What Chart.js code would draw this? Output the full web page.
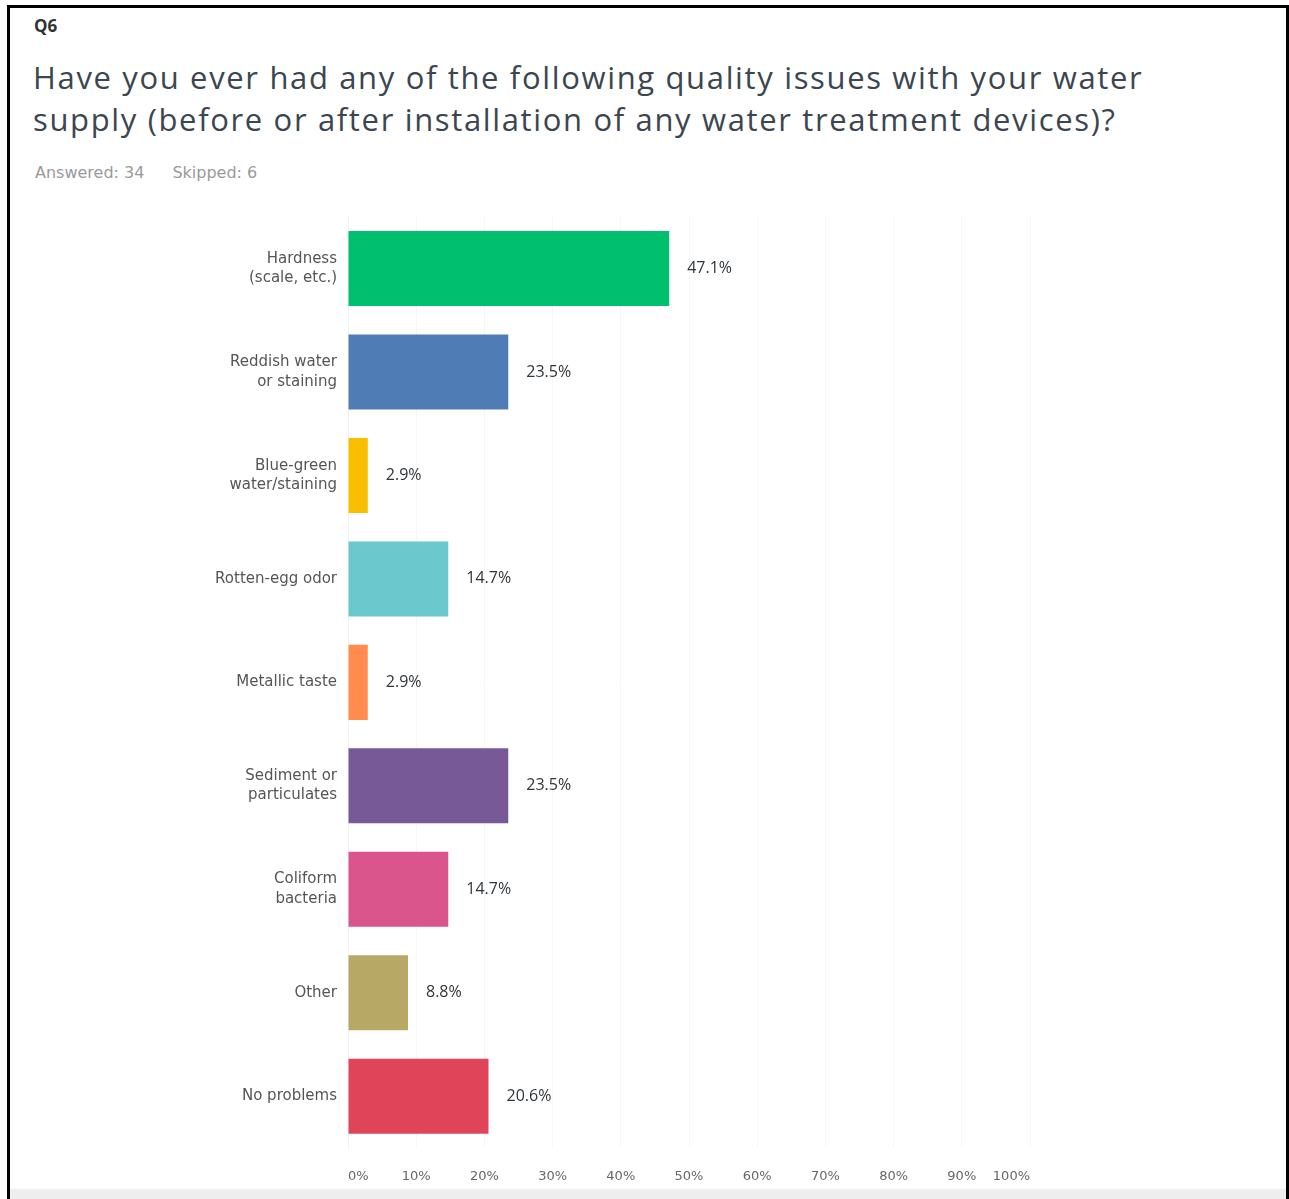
<!DOCTYPE html>
<html>
<head>
<meta charset="utf-8">
<script src="https://cdn.jsdelivr.net/npm/chart.js@4.4.1/dist/chart.umd.min.js"></script>
<style>
  html, body { margin: 0; padding: 0; background: #fff; }
  body { width: 1289px; height: 1199px; position: relative; overflow: hidden; font-family: "Open Sans", "Noto Sans", sans-serif; }
  #frame { position: absolute; left: 7px; top: 5px; width: 1276px; height: 1200px; border: 3px solid #000; box-sizing: content-box; }
  #strip { position: absolute; left: 10px; top: 1189px; width: 1276px; height: 10px; background: #eeeeee; }
  #q { position: absolute; left: 34px; top: 14px; font-size: 17px; font-weight: 700; color: #333; }
  #title { position: absolute; left: 33px; top: 56px; font-size: 31px; line-height: 42px; color: #3b4650; font-weight: 400; letter-spacing: 1.65px; white-space: nowrap; }
  #meta { position: absolute; left: 35px; top: 163px; font-size: 16px; color: #9a9a9a; font-family: "DejaVu Sans", sans-serif; }
  #meta span { margin-right: 28px; }
  #wrap { position: absolute; left: 10px; top: 196px; width: 1270px; height: 994px; }
</style>
</head>
<body>
<div id="frame"></div>
<div id="strip"></div>
<div id="q">Q6</div>
<div id="title">Have you ever had any of the following quality issues with your water<br>supply (before or after installation of any water treatment devices)?</div>
<div id="meta"><span>Answered: 34</span><span>Skipped: 6</span></div>
<div id="wrap"><canvas id="c"></canvas></div>
<script>
const categories = [
  ["Hardness", "(scale, etc.)"],
  ["Reddish water", "or staining"],
  ["Blue-green", "water/staining"],
  "Rotten-egg odor",
  "Metallic taste",
  ["Sediment or", "particulates"],
  ["Coliform", "bacteria"],
  "Other",
  "No problems"
];
const values = [47.1, 23.5, 2.9, 14.7, 2.9, 23.5, 14.7, 8.8, 20.6];
const barColors = ["#00bf6f", "#507cb6", "#f9be00", "#6bc8cd", "#ff8b4f", "#765996", "#d9558c", "#b8a865", "#e04458"];
const tickValues = [0, 10, 20, 30, 40, 50, 60, 70, 80, 90, 100];

const valueLabels = {
  id: 'valueLabels',
  afterDatasetsDraw(chart) {
    const ctx = chart.ctx;
    const meta = chart.getDatasetMeta(0);
    ctx.save();
    ctx.font = '16px "Open Sans", sans-serif';
    ctx.fillStyle = '#2f353a';
    ctx.textAlign = 'left';
    ctx.textBaseline = 'middle';
    meta.data.forEach((bar, i) => {
      ctx.fillText(values[i].toFixed(1) + '%', bar.x + 18, bar.y);
    });
    ctx.restore();
  }
};

new Chart(document.getElementById('c'), {
  type: 'bar',
  data: {
    labels: categories,
    datasets: [{
      data: values,
      backgroundColor: barColors,
      borderWidth: 0,
      categoryPercentage: 1.0,
      barPercentage: 0.725
    }]
  },
  options: {
    indexAxis: 'y',
    responsive: true,
    maintainAspectRatio: false,
    animation: false,
    layout: { padding: { top: 16, right: 250, left: 0, bottom: 0 } },
    plugins: { legend: { display: false }, tooltip: { enabled: false } },
    scales: {
      x: {
        min: 0, max: 100,
        afterBuildTicks(axis) { axis.ticks = tickValues.map(v => ({ value: v })); },
        afterFit(axis) { axis.height = 42; },
        border: { display: false },
        grid: { color: '#f7f7f7', drawTicks: false, lineWidth: 1 },
        ticks: {
          align: 'inner',
          padding: 21,
          color: '#666',
          font: { family: '"DejaVu Sans", sans-serif', size: 13 },
          callback: v => v + '%'
        }
      },
      y: {
        afterFit(axis) { axis.width = 338; },
        border: { display: true, color: '#f2f2f2' },
        grid: { display: false, drawTicks: false },
        ticks: {
          padding: 11,
          color: '#555',
          font: { family: '"DejaVu Sans", sans-serif', size: 15, lineHeight: 1.3 }
        }
      }
    }
  },
  plugins: [valueLabels]
});
</script>
</body>
</html>
